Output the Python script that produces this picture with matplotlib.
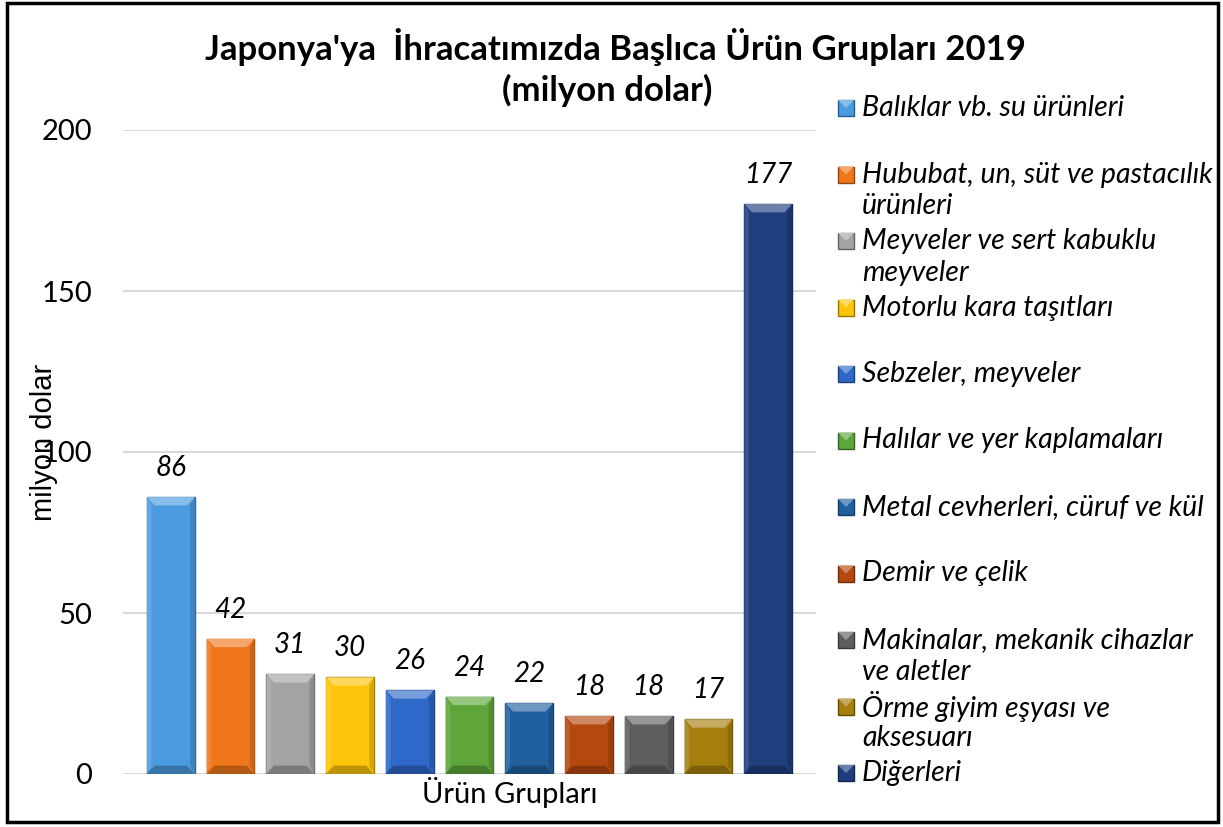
import matplotlib
matplotlib.use('Agg')
import matplotlib.pyplot as plt
import matplotlib.colors as mcolors
from matplotlib.patches import Polygon, Rectangle
import numpy as np

# Veriler
urunler = ['Balıklar vb. su ürünleri',
           'Hububat, un, süt ve pastacılık\nürünleri',
           'Meyveler ve sert kabuklu\nmeyveler',
           'Motorlu kara taşıtları',
           'Sebzeler, meyveler',
           'Halılar ve yer kaplamaları',
           'Metal cevherleri, cüruf ve kül',
           'Demir ve çelik',
           'Makinalar, mekanik cihazlar\nve aletler',
           'Örme giyim eşyası ve\naksesuarı',
           'Diğerleri']
degerler = [86, 42, 31, 30, 26, 24, 22, 18, 18, 17, 177]
renkler = ['#4A9BE0', '#F0761B', '#A3A3A3', '#FCC40A', '#2E68C8', '#5EA53A',
           '#21609F', '#B5480F', '#5E5E5E', '#A57E0D', '#1F3E7E']
yticks = [0, 50, 100, 150, 200]

W, H = 1223, 827
FONT = 'Lato'


def mix(c, other, t):
    a = np.array(mcolors.to_rgb(c))
    b = np.array(mcolors.to_rgb(other))
    return tuple(a * (1 - t) + b * t)


fig = plt.figure(figsize=(W / 100, H / 100), dpi=100)
ax = fig.add_axes([123 / W, 53 / H, 693 / W, 644 / H])

x = np.arange(len(degerler))
bw = 0.8
ax.bar(x, degerler, width=bw, color=renkler,
       edgecolor=[mix(c, 'black', 0.35) for c in renkler], linewidth=1.0, zorder=3)

# kabartma efekti (üst açık, alt koyu)
dx, dy = 0.13, 2.6
for xi, v, c in zip(x, degerler, renkler):
    l, r = xi - bw / 2, xi + bw / 2
    ax.add_patch(Polygon([(l, v), (r, v), (r - dx, v - dy), (l + dx, v - dy)],
                         closed=True, facecolor=mix(c, 'white', 0.35), edgecolor='none', zorder=4))
    ax.add_patch(Polygon([(l, 0), (r, 0), (r - dx, dy), (l + dx, dy)],
                         closed=True, facecolor=mix(c, 'black', 0.25), edgecolor='none', zorder=4))
    ax.add_patch(Polygon([(r, 0), (r, v), (r - dx * 0.6, v - dy), (r - dx * 0.6, dy)],
                         closed=True, facecolor=mix(c, 'black', 0.15), edgecolor='none', zorder=4))
    ax.add_patch(Polygon([(l, 0), (l, v), (l + dx * 0.6, v - dy), (l + dx * 0.6, dy)],
                         closed=True, facecolor=mix(c, 'white', 0.12), edgecolor='none', zorder=4))
    ax.annotate(str(v), (xi, v), xytext=(0, 21), textcoords='offset points',
                ha='center', va='center', fontsize=20, style='italic', family=FONT)

ax.set_xlim(-0.8, 10.8)
ax.set_ylim(0, 200)
ax.set_yticks(yticks)
ax.set_xticks([])
ax.grid(axis='y', color='#D9D9D9', linewidth=1.5, zorder=0)
ax.set_axisbelow(True)
for s in ax.spines.values():
    s.set_visible(False)
ax.tick_params(axis='y', length=0, pad=22, labelsize=21)
for t in ax.get_yticklabels():
    t.set_family(FONT)

# eksen başlıkları
fig.text(44 / W, 1 - 442 / H, 'milyon dolar', rotation=90, ha='center', va='center',
         fontsize=21, family='Liberation Sans')
fig.text(510 / W, 1 - 793 / H, 'Ürün Grupları', ha='center', va='center',
         fontsize=21, family=FONT)

# başlık
fig.text(615 / W, 1 - 47 / H, "Japonya'ya  İhracatımızda Başlıca Ürün Grupları 2019",
         ha='center', va='center', fontsize=25, fontweight='bold', family=FONT)
fig.text(607 / W, 1 - 90 / H, '(milyon dolar)',
         ha='center', va='center', fontsize=25, fontweight='bold', family=FONT)

# lejant
for k, (lab, c) in enumerate(zip(urunler, renkler)):
    yc = 108 + 66.5 * k
    fig.patches.append(Rectangle((838 / W, 1 - (yc + 8) / H), 16 / W, 16 / H,
                                 transform=fig.transFigure, facecolor=c,
                                 edgecolor=mix(c, 'black', 0.4), linewidth=1))
    fig.patches.append(Polygon([(838 / W, 1 - (yc - 8) / H), (854 / W, 1 - (yc - 8) / H),
                                (846 / W, 1 - yc / H)], closed=True,
                               transform=fig.transFigure, facecolor=mix(c, 'white', 0.35),
                               edgecolor='none'))
    for j, satir in enumerate(lab.split('\n')):
        fig.text(862 / W, 1 - (yc + 32 * j) / H, satir, ha='left', va='center',
                 fontsize=20.5, style='italic', family=FONT)

# çerçeve
fig.patches.append(Rectangle((7 / W, 5 / H), 1211 / W, 819 / H, transform=fig.transFigure,
                             facecolor='none', edgecolor='black', linewidth=2.5))

fig.savefig('out.png', dpi=100)
